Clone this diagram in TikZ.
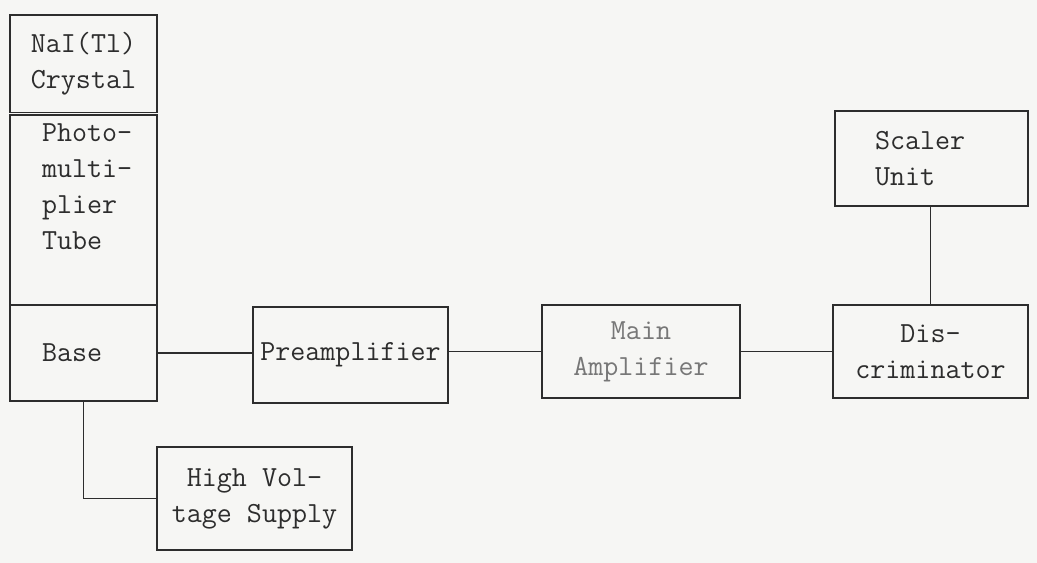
\documentclass[tikz,border=0pt]{standalone}
\usepackage{tikz}
\usetikzlibrary{positioning}
\definecolor{inkGray}{RGB}{45,45,45}
\definecolor{paperGray}{RGB}{246,246,244}

\begin{document}
\begin{tikzpicture}[x=0.02cm,y=-0.02cm,
        box/.style={draw=inkGray,line width=1pt,align=center,inner sep=0pt,text=inkGray,
          font=\ttfamily\fontsize{16.6}{20.5}\selectfont,minimum width=3.9cm,minimum height=1.9cm},
        wire/.style={draw=inkGray,line width=1pt}
      ]
        \fill[paperGray] (0,0) rectangle (1037,563);
        \useasboundingbox (0,0) rectangle (1037,563);
        % detector column
        \node[box,minimum width=2.94cm,minimum height=1.95cm] (cry) at (83.5,63.75) {NaI(Tl)\\Crystal};
        \node[box,minimum width=2.94cm,minimum height=3.79cm,text width=1.66cm,align=left] (pmt) at (83.5,210) {Photo-\\multi-\\plier\\Tube\\\strut};
        \node[box,minimum width=2.94cm,minimum height=1.92cm,text width=1.66cm,align=left] (base) at (83.5,353) {Base};
        % electronics
        \node[box,minimum height=1.92cm] (pre) at (350.5,355) {Preamplifier};
        \node[box,minimum width=3.96cm,minimum height=1.86cm,text=inkGray!65] (amp) at (641,351.5) {Main\\Amplifier};
        \node[box,minimum height=1.86cm] (disc) at (930.5,351.5) {Dis-\\criminator};
        \node[box,minimum width=3.86cm,text width=2.26cm,align=left] (scal) at (931.5,158.5) {Scaler\\Unit};
        \node[box,minimum height=2.06cm] (hv) at (254.5,498.5) {High Vol-\\tage Supply};
        \draw[wire] (base.east) -- (base.east -| pre.west);
        \draw[wire] (pre.east |- amp.west) -- (amp.west);
        \draw[wire] (amp.east) -- (disc.west);
        \draw[wire] (scal.south -| disc.north) -- (disc.north);
        \draw[wire] (base.south) |- (hv.west);
      \end{tikzpicture}
\end{document}
